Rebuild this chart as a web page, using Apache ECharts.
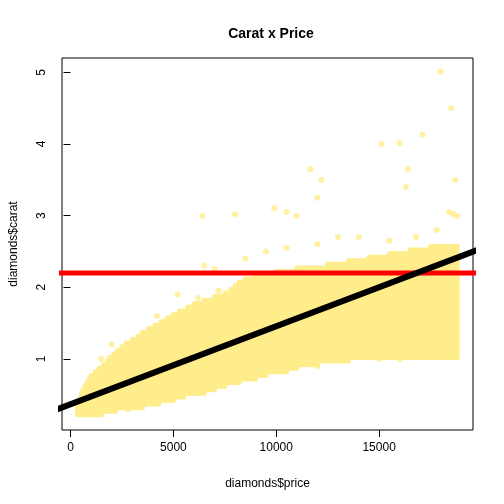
<!DOCTYPE html>
<html><head><meta charset="utf-8">
<script src="https://cdn.jsdelivr.net/npm/echarts@6/dist/echarts.min.js"></script>
<style>html,body{margin:0;padding:0;background:#fff}#c{width:504px;height:504px}</style>
</head><body><div id="c"></div>
<script>
// dense cloud: carat level -> price span
var stripCarat = [0.22,0.27,0.32,0.37,0.42,0.47,0.52,0.57,0.62,0.67,0.72,0.77,0.82,0.87,0.92,0.97,
  1.02,1.07,1.12,1.17,1.22,1.27,1.32,1.37,1.42,1.47,1.52,1.57,1.62,1.67,1.72,1.77,1.82,1.87,1.92,1.97,
  2.02,2.07,2.12,2.17,2.22,2.27,2.32,2.37,2.42,2.47,2.52,2.57];
var stripMin = [330,330,350,400,450,500,550,600,700,800,900,1000,1200,1400,1600,1800,
  1900,2100,2300,2500,2700,3000,3300,3500,3800,4100,4400,4700,5000,5300,5700,6000,6500,7000,7500,7800,
  8000,8200,8500,9000,10000,11000,12500,13500,14500,15500,16500,17500];
var stripMax = [1500,2200,3500,4300,5000,5500,6500,7000,7500,8200,9000,9500,10500,11000,12000,13500,
  18800,18800,18800,18800,18800,18800,18800,18800,18800,18800,18800,18800,18800,18800,18800,18800,18800,18800,18800,18800,
  18800,18800,18800,18800,18800,18800,18800,18800,18800,18800,18800,18800];
// scattered points outside the cloud
var outliers = [[6400,3.0],[8000,3.02],[9900,3.1],[10500,3.05],[11000,3.0],[11650,3.65],[12200,3.5],[12000,3.25],
  [15100,4.0],[16000,4.01],[16400,3.65],[16300,3.4],[17100,4.13],[18000,5.01],[18500,4.5],[18700,3.5],
  [18600,3.02],[18800,3.0],[6500,2.3],[7000,2.25],[13000,2.7],[14000,2.7],[17800,2.8],[18400,3.05],
  [18000,1.05],[16000,1.0],[17500,1.1],[15000,1.0],[12000,0.9],[10500,0.9],[9000,0.8],[7500,0.7],
  [6500,0.6],[5000,0.5],[3300,0.35],[2800,0.3],[1500,1.0],[2000,1.2],[8500,2.4],[9500,2.5],[10500,2.55],
  [12000,2.6],[15500,2.65],[16800,2.7],[4200,1.6],[5200,1.9],[6200,1.85],[7200,1.95]];
var lmIntercept = 0.3673, lmSlope = 0.0001089;
var refCarat = 2.2;
var xTicks = [0,5000,10000,15000];
var yTicks = [1,2,3,4,5];

var pt = '#FFEC8B';
var series = stripCarat.map(function(c,i){
  return {type:'line', silent:true, symbol:'none', data:[[stripMin[i],c],[stripMax[i],c]],
    lineStyle:{color:pt,width:5,cap:'round'}, z:2};
});
series.push({type:'scatter', data:outliers, symbolSize:6, itemStyle:{color:pt}, z:3});
series.push({type:'line', symbol:'none', clip:true,
  data:[[-2000,lmIntercept-2000*lmSlope],[22000,lmIntercept+22000*lmSlope]],
  lineStyle:{color:'#000',width:6}, z:5});
series.push({type:'line', symbol:'none', clip:true, data:[[-2000,refCarat],[22000,refCarat]],
  lineStyle:{color:'#ff0000',width:5}, z:4});

var chart = echarts.init(document.getElementById('c'));
chart.setOption({
  animation:false,
  title:{text:'Carat x Price', left:266, top:22, textAlign:'center',
    textStyle:{fontFamily:'Liberation Sans, Arial', fontWeight:'bold', fontSize:14, color:'#000'}},
  grid:{left:60, right:31, top:58, bottom:74, show:true, borderColor:'#000', borderWidth:1},
  xAxis:{type:'value', min:-414, max:19563, splitLine:{show:false}, axisLine:{show:false},
    axisTick:{show:true, length:7, inside:false, customValues:xTicks, lineStyle:{color:'#000'}},
    axisLabel:{customValues:xTicks, formatter:function(v){return String(v);}, color:'#000', fontSize:12, margin:12, fontFamily:'Liberation Sans, Arial'},
    name:'diamonds$price', nameLocation:'middle', nameGap:48,
    nameTextStyle:{color:'#000', fontSize:12, fontFamily:'Liberation Sans, Arial'}},
  yAxis:{type:'value', min:0.008, max:5.2, splitLine:{show:false}, axisLine:{show:false},
    axisTick:{show:true, length:7, inside:false, customValues:yTicks, lineStyle:{color:'#000'}},
    axisLabel:{customValues:yTicks, color:'#000', fontSize:12, rotate:90, margin:14, fontFamily:'Liberation Sans, Arial'},
    name:'diamonds$carat', nameLocation:'middle', nameGap:42,
    nameTextStyle:{color:'#000', fontSize:12, fontFamily:'Liberation Sans, Arial'}},
  series:series
});
</script>
</body></html>
